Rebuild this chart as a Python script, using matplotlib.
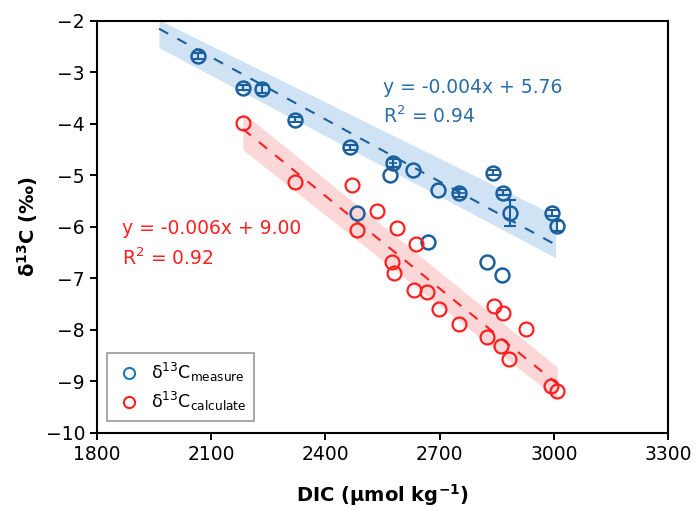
import matplotlib
matplotlib.use('Agg')
import matplotlib.pyplot as plt
import numpy as np

plt.rcParams['font.family'] = ['DejaVu Sans']
plt.rcParams['mathtext.fontset'] = 'dejavusans'
plt.rcParams['mathtext.default'] = 'regular'

# measured d13C (blue) with error bars
dic_meas = [2065, 2183, 2233, 2320, 2464, 2482, 2577, 2570, 2630, 2668,
            2695, 2750, 2824, 2840, 2863, 2866, 2884, 2994, 3007]
d13c_meas = [-2.68, -3.30, -3.32, -3.92, -4.45, -5.73, -4.76, -4.99, -4.89, -6.29,
             -5.28, -5.34, -6.68, -4.95, -6.93, -5.34, -5.73, -5.73, -5.98]
yerr_meas = [0.05, 0.05, 0.08, 0.05, 0.05, 0, 0.08, 0, 0, 0,
             0, 0.08, 0, 0.05, 0, 0.05, 0.25, 0.06, 0.1]
xerr_meas = [0, 0, 0, 0, 0, 0, 10, 0, 0, 0,
             0, 15, 0, 0, 0, 0, 0, 0, 0]

# calculated d13C (red)
dic_calc = [2183, 2320, 2470, 2482, 2535, 2574, 2580, 2587, 2632, 2666, 2637,
            2698, 2750, 2824, 2842, 2866, 2860, 2882, 2926, 2992, 3008]
d13c_calc = [-3.98, -5.12, -5.18, -6.06, -5.69, -6.68, -6.89, -6.02, -7.22, -7.26, -6.33,
             -7.59, -7.88, -8.14, -7.53, -7.67, -8.31, -8.56, -7.98, -9.09, -9.18]

# linear fits and their shaded bands
slope_meas, icpt_meas, r2_meas = -0.00403, 5.76, 0.94
slope_calc, icpt_calc, r2_calc = -0.006, 9.00, 0.92
fitx_meas = [1963, 3004]
band_hi_meas = [-1.98, -5.78]
band_lo_meas = [-2.52, -6.60]
fitx_calc = [2183, 3008]
band_hi_calc = [-3.78, -8.72]
band_lo_calc = [-4.50, -9.34]

blue = '#1b5f9c'
blue_txt = '#2a6ca6'
red = '#ff1f1f'

fig = plt.figure(figsize=(6.97, 5.11), dpi=100)
ax = fig.add_axes([0.139, 0.153, 0.820, 0.806])

ax.fill_between(fitx_meas, band_lo_meas, band_hi_meas, color='#c8def3', alpha=0.85, lw=0, zorder=1)
ax.fill_between(fitx_calc, band_lo_calc, band_hi_calc, color='#fcd0d0', alpha=0.85, lw=0, zorder=1)

xm = np.array(fitx_meas)
xc = np.array(fitx_calc)
ax.plot(xm, slope_meas * xm + icpt_meas, color=blue, ls=(0, (5, 5)), lw=1.5, zorder=2)
ax.plot(xc, slope_calc * xc + icpt_calc, color=red, ls=(0, (5, 5)), lw=1.5, zorder=2)

# error bars only where they exist
dm = np.array(dic_meas)
vm = np.array(d13c_meas)
ye = np.array(yerr_meas)
xe = np.array(xerr_meas)
sel = ye > 0
ax.errorbar(dm[sel], vm[sel], yerr=ye[sel], fmt='none', ecolor=blue,
            elinewidth=1.5, capsize=4.5, capthick=1.5, zorder=3)
sel = xe > 0
ax.errorbar(dm[sel], vm[sel], xerr=xe[sel], fmt='none', ecolor=blue,
            elinewidth=1.2, capsize=0, zorder=3)

ax.plot(dic_meas, d13c_meas, 'o', ms=10, mfc='none', mec=blue, mew=1.8, zorder=4)
ax.plot(dic_calc, d13c_calc, 'o', ms=10, mfc='none', mec=red, mew=1.6, zorder=4)

ax.text(2551, -3.30, 'y = %.3fx + %.2f' % (slope_meas, icpt_meas), color=blue_txt,
        fontsize=13.5, va='center', ha='left')
ax.text(2551, -3.86, 'R$^2$ = %.2f' % r2_meas, color=blue_txt,
        fontsize=13.5, va='center', ha='left')
ax.text(1866, -6.04, 'y = %.3fx + %.2f' % (slope_calc, icpt_calc), color=red,
        fontsize=13.5, va='center', ha='left')
ax.text(1866, -6.60, 'R$^2$ = %.2f' % r2_calc, color=red,
        fontsize=13.5, va='center', ha='left')

# legend handles
h1, = ax.plot([], [], 'o', ms=8, mfc='none', mec='#1f77b4', mew=1.5)
h2, = ax.plot([], [], 'o', ms=8, mfc='none', mec=red, mew=1.5)
leg = ax.legend([h1, h2], [r'δ$^{13}$C$_{measure}$', r'δ$^{13}$C$_{calculate}$'],
                loc='lower left', bbox_to_anchor=(0.0175, 0.029), borderaxespad=0,
                fontsize=12.5, fancybox=False, edgecolor='#999999', framealpha=1,
                handletextpad=0.5, borderpad=0.45, labelspacing=0.35, handlelength=1.6)
leg.get_frame().set_linewidth(1.2)

ax.set_xlim(1800, 3300)
ax.set_ylim(-10, -2)
ax.set_xticks([1800, 2100, 2400, 2700, 3000, 3300])
ax.set_yticks(np.arange(-10, -1, 1))
ax.tick_params(direction='out', length=5, width=1.4, labelsize=13.5)
for s in ax.spines.values():
    s.set_linewidth(1.5)

ax.set_xlabel(r'DIC (μmol kg$^{\mathbf{-1}}$)', fontsize=14, fontweight='bold', labelpad=13)
ax.set_ylabel(r'δ$^{\mathbf{13}}$C (‰)', fontsize=14, fontweight='bold', labelpad=4)

fig.savefig('out.png', dpi=100)
